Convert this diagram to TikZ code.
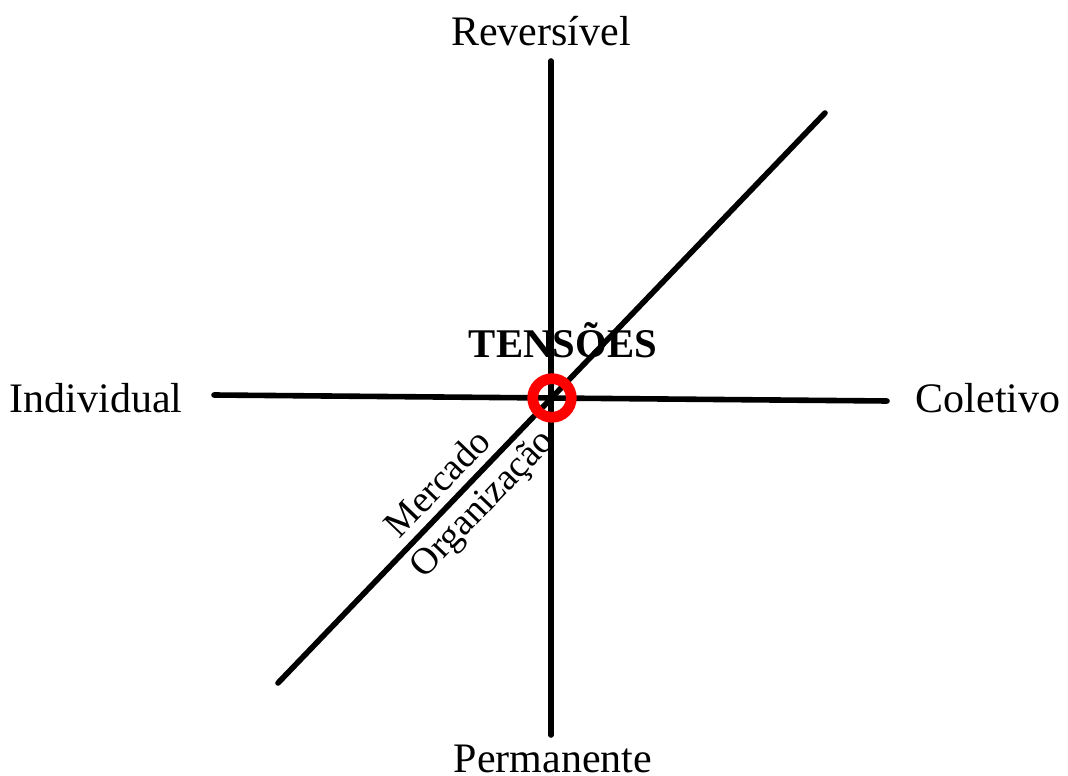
\documentclass[tikz,border=0pt]{standalone}
\usepackage{fontspec}
\setmainfont{Liberation Serif}
\begin{document}
\begin{tikzpicture}[x=0.02cm,y=-0.02cm,
  axis/.style={line width=0.112cm,line cap=round},
  lbl/.style={font=\fontsize{23.9}{28}\selectfont,inner sep=0pt},
  dlbl/.style={font=\fontsize{21.4}{25}\selectfont,inner sep=0pt,sloped}]
\useasboundingbox (0,0) rectangle (1068,776);
\coordinate (vt) at (551,61);
\coordinate (vb) at (551,735);
\coordinate (hl) at (214,395);
\coordinate (hr) at (887,401);
\coordinate (dl) at (278,683);
\coordinate (du) at (825,113);
\draw[axis] (vt) -- (vb);
\draw[axis] (hl) -- (hr);
\draw[axis] (dl) -- node[dlbl,pos=0.322,above=4.5pt] (merc) {Mercado}
  node[dlbl,pos=0.343,below=3.5pt] (org) {Organização} (du);
\draw[red,line width=0.215cm] (552,398) circle[radius=19.3];
\node[lbl] (rev) at (541,31) {Reversível};
\node[lbl] (perm) at (553,759) {Permanente};
\node[lbl] (ind) at (96,398) {Individual};
\node[lbl] (col) at (988,398) {Coletivo};
\node[lbl,font=\fontsize{23.2}{28}\selectfont\bfseries] (ten) at (563,340) {TENSÕES};
\end{tikzpicture}
\end{document}
